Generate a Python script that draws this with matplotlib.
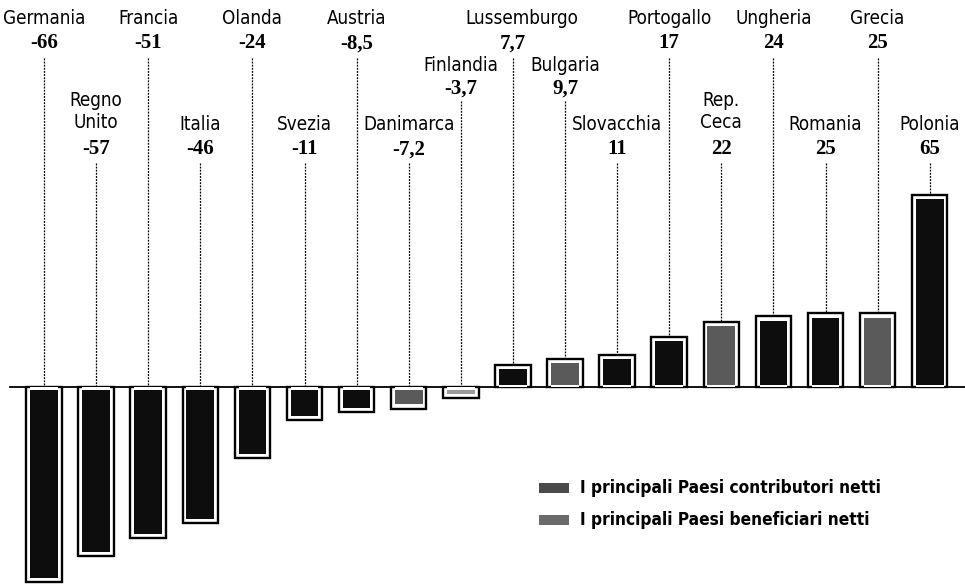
import matplotlib.pyplot as plt
from matplotlib.patches import Rectangle

paesi = ['Germania', 'Regno\nUnito', 'Francia', 'Italia', 'Olanda', 'Svezia',
         'Austria', 'Danimarca', 'Finlandia', 'Lussemburgo', 'Bulgaria',
         'Slovacchia', 'Portogallo', 'Rep.\nCeca', 'Ungheria', 'Romania',
         'Grecia', 'Polonia']
saldo = [-66, -57, -51, -46, -24, -11, -8.5, -7.2, -3.7, 7.7, 9.7, 11, 17,
         22, 24, 25, 25, 65]
# 0 = riga alta, 1 = riga media, 2 = riga bassa
riga = [0, 2, 0, 2, 0, 2, 0, 2, 1, 0, 1, 2, 0, 2, 0, 2, 0, 2]
grigi = ['Danimarca', 'Finlandia', 'Bulgaria', 'Rep.\nCeca', 'Grecia']
legenda = ['I principali Paesi contributori netti',
           'I principali Paesi beneficiari netti']

NOME = ['DejaVu Sans']
NUM = ['Liberation Serif', 'DejaVu Serif']


def fmt(v):
    if float(v).is_integer():
        return str(int(v))
    return str(v).replace('.', ',')


fig = plt.figure(figsize=(9.65, 5.84), dpi=100)
ax = fig.add_axes([0, 0, 1, 1])
px = 52.1
ax.set_xlim(-44 / px, (965 - 44) / px)
ax.set_ylim(-66.6, 131.1)
ax.axis('off')

ax.axhline(0, xmin=10 / 965, color='black', lw=1.3, zorder=1)

# posizioni testo per riga: (nome, valore, inizio linea)
righe = {0: (125.0, 116.5, 111.5), 1: (109.0, 101.0, 97.0), 2: (89.0, 80.5, 76.0)}
inset = 1.4

for i, (p, v) in enumerate(zip(paesi, saldo)):
    col = '#5a5a5a' if p in grigi else '#0d0d0d'
    if p == 'Finlandia':
        col = '#9a9a9a'
    ax.bar(i, v, width=0.68, color='white', edgecolor='black', lw=1.7, zorder=2)
    s = 1 if v > 0 else -1
    ax.bar(i, v - s * inset, bottom=0, width=0.53, color=col, lw=0, zorder=3)
    ax.bar(i, s * inset * 0.6, bottom=0, width=0.53, color='white', lw=0, zorder=4)

    ny, vy, ly = righe[riga[i]]
    nome_y = ny + 4.5 if '\n' in p else ny
    nome_x = i + 0.18 if p == 'Lussemburgo' else i
    ax.text(nome_x, nome_y, p, ha='center', va='center', fontsize=13.5,
            family=NOME, fontstretch='condensed', linespacing=1.2)
    ax.text(i, vy, fmt(v), ha='center', va='center', fontsize=15,
            family=NUM, fontweight='bold')
    fine = v if v > 0 else 0
    ax.plot([i, i], [ly, fine], color='black', lw=0.9, ls=(0, (1.5, 1)),
            zorder=1)

# legenda
for k, (testo, c) in enumerate(zip(legenda, ['#4a4a4a', '#6a6a6a'])):
    yy = 1 - (488 + k * 32) / 584
    ax.add_patch(Rectangle((539 / 965, yy - 0.008), 30 / 965, 0.016,
                           transform=ax.transAxes, color=c, lw=0))
    ax.text(580 / 965, yy, testo, transform=ax.transAxes, ha='left',
            va='center', fontsize=12.4, family=NOME, fontstretch='condensed',
            fontweight='bold')

fig.savefig('out.png', dpi=100)
